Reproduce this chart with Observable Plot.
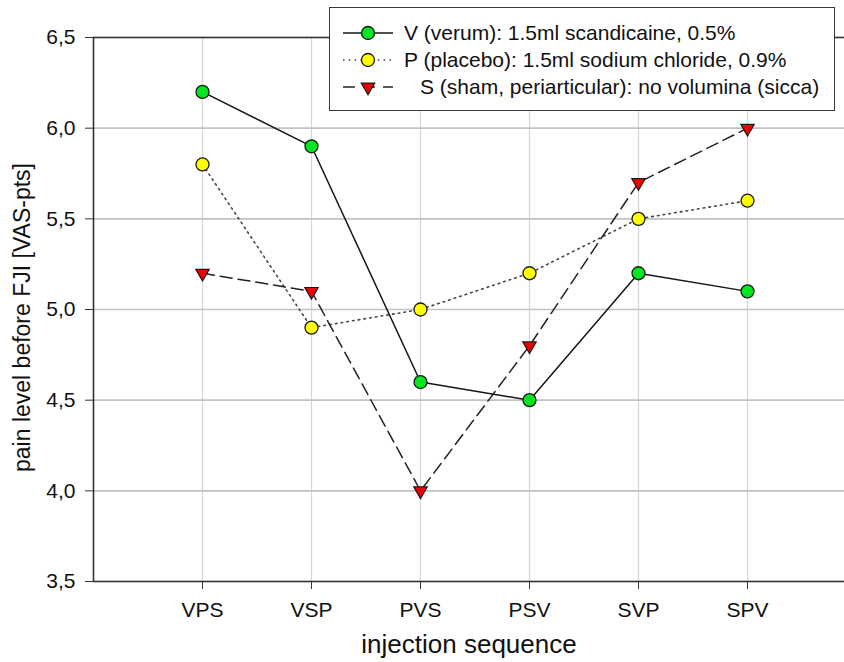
<!DOCTYPE html>
<html>
<head>
<meta charset="utf-8">
<script src="https://cdn.jsdelivr.net/npm/d3@7"></script>
<script src="https://cdn.jsdelivr.net/npm/@observablehq/plot@0.6"></script>
<style>
  html, body { margin: 0; padding: 0; background: #fff; overflow: hidden; }
  #wrap { position: relative; width: 844px; height: 662px; font-family: "Liberation Sans", Arial, sans-serif; }
  #legend-box { position: absolute; left: 329px; top: 7px; width: 506px; height: 104px; box-sizing: border-box;
    border: 1.5px solid #3a3a3a; background: #fff; }
  .lg-key { position: absolute; left: 340px; width: 58px; height: 20px; overflow: visible; }
  .lg-text { position: absolute; font-size: 21px; line-height: 24px; color: #111; white-space: nowrap; }
</style>
</head>
<body>
<div id="wrap"></div>
<script>
// injection sequences on the x axis
const sequences = ["VPS", "VSP", "PVS", "PSV", "SVP", "SPV"];
// mean pain level (VAS points) before the facet joint injection, per group
const verum = [6.2, 5.9, 4.6, 4.5, 5.2, 5.1];
const placebo = [5.8, 4.9, 5.0, 5.2, 5.5, 5.6];
const sham = [5.2, 5.1, 4.0, 4.8, 5.7, 6.0];
const yTicks = [3.5, 4.0, 4.5, 5.0, 5.5, 6.0, 6.5];
const seriesLabels = [
  "V (verum): 1.5ml scandicaine, 0.5%",
  "P (placebo): 1.5ml sodium chloride, 0.9%",
  "S (sham, periarticular): no volumina (sicca)"
];
const xTitle = "injection sequence";
const yTitle = "pain level before FJI [VAS-pts]";

const rows = (vals) => sequences.map((seq, i) => ({seq, value: vals[i]}));
const comma = (d) => d.toFixed(1).replace(".", ",");

const styles = [
  {fill: "#00e620", line: {stroke: "#151515", strokeWidth: 1.5}, symbol: "circle"},
  {fill: "#ffff00", line: {stroke: "#444", strokeWidth: 1.6, strokeDasharray: "1.6,4.2"}, symbol: "circle"},
  {fill: "#f00000", line: {stroke: "#222", strokeWidth: 1.5, strokeDasharray: "12,6"}, symbol: "triangle"}
];
const series = [verum, placebo, sham];

const marks = [
  Plot.gridX(sequences, {stroke: "#d6d6d6", strokeOpacity: 1, strokeWidth: 1.2}),
  Plot.gridY([4.0, 4.5, 5.0, 5.5, 6.0], {stroke: "#c2c2c2", strokeOpacity: 1, strokeWidth: 1.7}),
  Plot.frame({stroke: "#333", strokeWidth: 1.6, insetRight: -30}),
  Plot.axisY({ticks: yTicks, tickFormat: comma, tickSize: 8, tickPadding: 10, fontSize: 21, label: null, stroke: "#333"}),
  Plot.axisX({tickSize: 8, tickPadding: 13, fontSize: 21, label: null, stroke: "#333"}),
  Plot.text([yTitle], {frameAnchor: "left", dx: -71, dy: 8, rotate: -90, textAnchor: "middle", lineAnchor: "middle", fontSize: 23, fill: "#111"}),
  Plot.text([xTitle], {frameAnchor: "bottom", dy: 63, textAnchor: "middle", lineAnchor: "middle", fontSize: 26, fill: "#111"})
];

series.forEach((vals, k) => {
  const s = styles[k];
  marks.push(Plot.line(rows(vals), {x: "seq", y: "value", ...s.line}));
});
series.forEach((vals, k) => {
  const s = styles[k];
  if (s.symbol === "triangle") {
    marks.push(Plot.dot(rows(vals), {x: "seq", y: "value", symbol: "triangle", rotate: 180, r: 5, fill: s.fill, stroke: "#1a1a1a", strokeWidth: 1.2}));
  } else {
    marks.push(Plot.dot(rows(vals), {x: "seq", y: "value", r: 6.5, fill: s.fill, stroke: "#1a1a1a", strokeWidth: 1.3}));
  }
});

const chart = Plot.plot({
  width: 844,
  height: 662,
  marginLeft: 93,
  marginRight: 0,
  marginTop: 37,
  marginBottom: 81,
  style: {fontFamily: "'Liberation Sans', Arial, sans-serif", fontSize: "20px", background: "white", color: "#111"},
  x: {type: "point", domain: sequences, range: [93, 856], padding: 1},
  y: {domain: [3.5, 6.5]},
  marks
});

const wrap = document.getElementById("wrap");
wrap.appendChild(chart);

// legend box drawn over the top-right of the plot
const box = document.createElement("div");
box.id = "legend-box";
wrap.appendChild(box);

const rowY = [33, 60, 87];
const textLeft = [404, 404, 420];
seriesLabels.forEach((label, k) => {
  const s = styles[k];
  const key = d3.create("svg").attr("class", "lg-key").attr("width", 58).attr("height", 20)
    .style("top", (rowY[k] - 10) + "px");
  key.append("line").attr("x1", 3).attr("x2", 53).attr("y1", 10).attr("y2", 10)
    .attr("stroke", s.line.stroke).attr("stroke-width", s.line.strokeWidth)
    .attr("stroke-dasharray", k === 2 ? "12,8" : (s.line.strokeDasharray || null));
  if (s.symbol === "triangle") {
    key.append("path").attr("d", d3.symbol(d3.symbolTriangle, Math.PI * 25)())
      .attr("transform", "translate(28,10) rotate(180)")
      .attr("fill", s.fill).attr("stroke", "#1a1a1a").attr("stroke-width", 1.2);
  } else {
    key.append("circle").attr("cx", 28).attr("cy", 10).attr("r", 6.5)
      .attr("fill", s.fill).attr("stroke", "#1a1a1a").attr("stroke-width", 1.3);
  }
  wrap.appendChild(key.node());
  const t = document.createElement("div");
  t.className = "lg-text";
  t.style.left = textLeft[k] + "px";
  t.style.top = (rowY[k] - 12) + "px";
  t.textContent = label;
  wrap.appendChild(t);
});
</script>
</body>
</html>
